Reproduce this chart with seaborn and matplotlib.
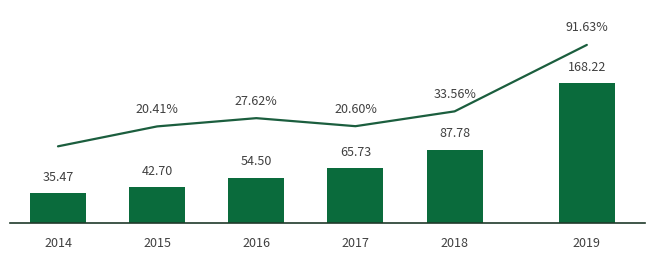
import matplotlib
matplotlib.use("Agg")
import matplotlib.pyplot as plt
import numpy as np
import pandas as pd
import seaborn as sns

years = ["2014", "2015", "2016", "2017", "2018", "2019"]
revenue = [35.47, 42.70, 54.50, 65.73, 87.78, 168.22]
growth = [3.0, 20.41, 27.62, 20.60, 33.56, 91.63]  # 2014 value unlabeled, estimated
growth_labels = ["", "20.41%", "27.62%", "20.60%", "33.56%", "91.63%"]

sns.set_theme(style="white")
plt.rcParams["font.family"] = ["Noto Sans CJK SC", "DejaVu Sans"]

BAR = "#0a6b3c"
LINE = "#1b5e3e"
TXT = "#404040"

# x positions: uniform spacing with a wider gap before the final year
pos = np.arange(len(years), dtype=float)
pos[-1] += 1 / 3

df = pd.DataFrame({"pos": pos, "revenue": revenue, "growth": growth})

fig = plt.figure(figsize=(6.6, 2.7), dpi=100)
ax = fig.add_axes([10 / 660, (270 - 223) / 270, 635 / 660, 218 / 270])

sns.barplot(data=df, x="pos", y="revenue", native_scale=True, width=0.565,
            color=BAR, saturation=1, ax=ax, edgecolor="none")

for p, v in zip(pos, revenue):
    ax.annotate(f"{v:.2f}", (p, v), xytext=(0, 11.5), textcoords="offset points",
                ha="center", va="center", fontsize=9, color=TXT)

ax.set_xlim(-0.484, 5.92)
ax.set_ylim(0, 262)
ax.set_xticks(pos)
ax.set_xticklabels(years, fontsize=9, color=TXT)
ax.tick_params(axis="x", length=0, pad=10)
ax.set_yticks([])
ax.set_xlabel("")
ax.set_ylabel("")
for s in ["top", "right", "left"]:
    ax.spines[s].set_visible(False)
ax.spines["bottom"].set_color("#1f3a2a")
ax.spines["bottom"].set_linewidth(1.2)

ax2 = ax.twinx()
sns.lineplot(data=df, x="pos", y="growth", color=LINE, linewidth=1.6, ax=ax2)
ax2.set_ylim(-64, 126.5)
ax2.set_yticks([])
ax2.set_ylabel("")
for s in ax2.spines.values():
    s.set_visible(False)

for p, g, lab in zip(pos, growth, growth_labels):
    if lab:
        ax2.annotate(lab, (p, g), xytext=(0, 12.2), textcoords="offset points",
                     ha="center", va="center", fontsize=9, color=TXT)

fig.savefig("out.png", dpi=100)
